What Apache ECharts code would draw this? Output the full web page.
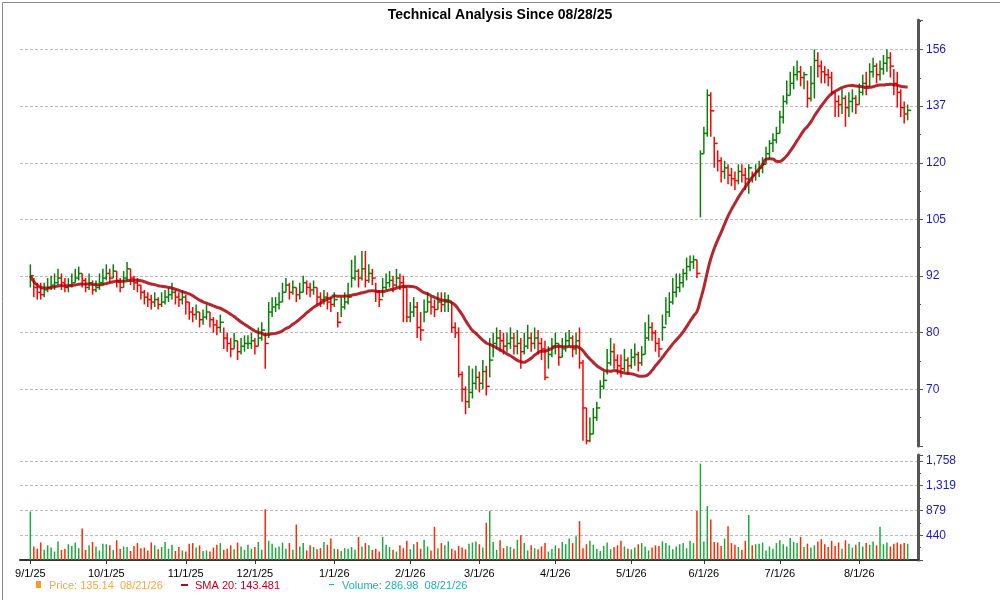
<!DOCTYPE html>
<html>
<head>
<meta charset="UTF-8">
<title>Technical Analysis</title>
<script src="https://cdn.jsdelivr.net/npm/echarts@6/dist/echarts.min.js"></script>
<style>
  html, body { margin: 0; padding: 0; background: #fff; }
  #main { width: 1000px; height: 600px; }
</style>
</head>
<body>
<div id="main"></div>
<script>
// daily bars, one per trading day from 9/1/25
var closes = [
  91.5, 89, 88, 87.5, 88.5, 89, 89.5, 90, 91, 90,
  89, 89.5, 90, 91, 92, 90.5, 89, 90, 88.5, 89,
  90, 91, 92, 91, 92.5, 90.5, 89, 91, 93, 91,
  90, 89.5, 88, 87, 86.5, 86, 86.5, 85.5, 86, 87,
  87.5, 88, 87, 86.5, 87, 86, 84, 83.5, 84, 82.5,
  83, 84, 82.5, 81.5, 81, 82, 79, 78, 77, 78.5,
  76.5, 77.5, 78, 78, 78.5, 77.5, 79, 80.5, 78, 84,
  85, 85.5, 86, 88, 89.5, 88, 89, 87.5, 88, 90,
  89, 88.5, 89, 87, 86.5, 87, 86, 85.5, 86.5, 82,
  85, 86, 87, 91, 92.5, 91, 93, 90.5, 92, 91,
  88, 86.5, 89, 90, 90.5, 89.5, 91, 90, 89, 83,
  84, 85, 81, 80.5, 84, 86, 85, 84.5, 86, 85.5,
  86, 86, 81, 80, 72.5, 70, 68, 69.5, 71, 72,
  71, 73, 70.5, 75, 78, 79, 78.5, 77.5, 78, 79,
  77.5, 78, 76.5, 77.5, 79, 78, 79, 78, 77, 72,
  76, 77.5, 78, 75.5, 77, 78.5, 79, 77, 78.5, 74.5,
  67, 62, 63, 65.5, 67, 70.5, 71.5, 74.5, 76.5, 75,
  74, 73.5, 75, 74, 75.5, 76, 74.5, 76, 79, 81,
  80, 78, 77, 81, 84, 86, 88, 89, 90, 92,
  93.5, 94.5, 95, 92, 122, 128, 140, 135, 125, 120,
  117, 118, 116, 115, 114.5, 117, 116, 115, 118, 116,
  117, 118, 119, 122, 125, 126, 128, 133, 138, 140,
  144, 147, 148, 146, 147, 139, 144, 152, 150, 148,
  147, 146, 141, 138, 137, 139, 136, 138, 139, 137,
  141, 144, 143, 148, 150, 147, 149, 151, 153, 150,
  144, 141, 136, 134, 135.14
];
var highs = [
  94, 91, 90, 90, 90, 91, 91.5, 92, 93, 92,
  91, 91, 92, 93, 93.5, 92, 91, 92, 90.5, 90.5,
  92, 93, 94, 93, 94, 92.5, 91, 92.5, 94.5, 93,
  91.5, 91, 89.5, 88.5, 88, 87.5, 88, 87, 88, 88.5,
  89, 90, 88.5, 88, 88.5, 87.5, 86, 85, 85.5, 84,
  84.5, 85.5, 84, 83, 82.5, 83.5, 81, 80, 79, 80,
  78.5, 79, 79.5, 79.5, 80, 79, 81, 82, 80, 86,
  87, 87, 88, 90, 91, 90, 90.5, 89, 90, 91.5,
  90.5, 90, 90.5, 89, 88, 88.5, 88, 87, 88, 84,
  87, 88, 90, 95, 96, 93, 97, 97, 94, 93,
  90, 88.5, 91, 92, 92.5, 91.5, 93, 92, 91.5, 89,
  86, 87, 86, 84, 86.5, 88, 87, 86.5, 88, 88,
  88, 87.5, 86, 82, 81, 73, 70.5, 74, 73.5, 74,
  73, 75, 74, 79, 80, 81, 80.5, 80, 80, 81,
  80, 80.5, 79, 80, 81.5, 80, 81, 80.5, 79, 78.5,
  77.5, 79, 80, 78, 79, 80, 80.5, 79.5, 80, 81,
  75, 67, 65.5, 67, 68, 71.5, 73, 77, 79, 78,
  76, 76, 77, 75.5, 77, 78, 76.5, 77.5, 82, 83.5,
  82, 80.5, 79, 83.5, 87, 88, 91, 92, 92, 93,
  95.5, 96, 96, 95, 123, 130, 142, 141, 127, 123,
  121, 120, 119, 118, 117, 119, 119, 118, 119, 117,
  119, 120, 121, 124, 126, 128, 130, 135, 140, 145,
  148, 150, 152, 150, 148, 145, 150, 156, 155, 152,
  150, 149, 148, 141, 140, 142, 140, 141, 142, 140,
  144, 147, 148, 151, 153, 151, 152, 154, 156, 155,
  149, 148, 142, 138, 137
];
var lows = [
  89, 87, 86.5, 86.5, 87, 88, 88.5, 88.5, 89.5, 88.5,
  88, 88, 89, 90, 90.5, 89, 88, 88.5, 87.5, 88,
  88.5, 89.5, 90.5, 90, 91, 89, 88, 89, 90.5, 89.5,
  88.5, 88, 86.5, 85.5, 85, 84.5, 85, 84.5, 85, 85.5,
  86, 86.5, 85.5, 85, 85.5, 83.5, 82.5, 82, 82.5, 81,
  81.5, 82.5, 81, 80, 79.5, 80, 77, 76.5, 75.5, 77,
  75, 76, 76.5, 77, 77, 76, 77.5, 78.5, 73.5, 79,
  83, 84, 84.5, 86, 88, 86.5, 87.5, 86, 86.5, 88,
  87.5, 87, 87.5, 85.5, 85, 85.5, 84.5, 84, 85, 81,
  83, 84.5, 85.5, 89, 90.5, 89, 90.5, 89, 90, 89.5,
  86, 85, 87, 88.5, 89, 88, 89, 88.5, 82, 82,
  82, 83, 79, 78.5, 82, 84, 83.5, 83, 84.5, 84,
  84, 84, 80, 79, 72, 68, 66, 67, 68.5, 70,
  69.5, 70, 69, 72, 75.5, 77, 76.5, 76, 76.5, 77,
  76, 76, 73.5, 76, 77, 76.5, 77, 76, 75, 71.5,
  73.5, 75.5, 76, 74, 75.5, 76.5, 77.5, 75.5, 76, 73.5,
  62, 61.5, 61.8, 63, 65, 68.5, 70, 72.5, 74, 73.5,
  72.5, 72, 73, 72.5, 73.5, 74, 73, 74, 76, 78.5,
  78.5, 76.5, 75.5, 78.5, 81.5, 83, 85.5, 87, 88, 89,
  90.5, 92.5, 93, 91, 105, 122, 127, 127, 118, 117,
  114, 115, 113.5, 113, 112, 113.5, 114, 112, 111, 114,
  114.5, 115.5, 116.5, 119, 120.5, 122.5, 125, 128, 131, 137,
  140, 142, 145, 143, 142, 136, 138, 139, 146, 144,
  144, 143, 140, 133, 133, 134, 130, 133, 134.5, 134,
  137, 140, 140, 143, 146, 144, 145, 147, 148, 146,
  140, 136, 133, 131, 132
];
var volumes = [
  860, 240, 200, 310, 180, 260, 220, 150, 330, 180,
  200, 280, 250, 310, 210, 560, 180, 260, 320, 240,
  170, 290, 280, 260, 180, 350, 200, 240, 230, 160,
  250, 300, 210, 220, 170, 310, 260, 190, 230, 320,
  200, 270, 160, 230, 170, 150, 290, 300, 220, 260,
  160, 170, 150, 220, 270, 300, 180, 200, 260, 190,
  310, 240, 180, 270, 200, 230, 320, 180, 900, 340,
  290, 220, 240, 310, 200, 300, 180, 630, 240, 300,
  170, 260, 230, 190, 210, 320, 270, 380, 200, 190,
  160, 210, 200, 230, 180, 410, 240, 300, 260, 180,
  200, 150, 410, 270, 230, 180, 150, 260, 210, 340,
  190, 280, 320, 200, 360, 240, 170, 590, 210, 300,
  260, 330, 200, 170, 250, 220, 190, 290, 310, 330,
  280, 220, 660, 870, 320, 180, 350, 210, 250, 230,
  200, 360, 440, 300, 170, 260, 210, 190, 240, 300,
  150, 200, 260, 210, 320, 280, 380, 300, 420, 690,
  210, 280, 340, 270, 200, 160, 250, 310, 190, 230,
  260, 340, 240, 200, 190, 220, 280, 300, 240, 170,
  220, 260, 250, 330, 300, 260, 190, 240, 280, 300,
  210, 340, 300, 870, 1710, 330, 955, 720, 320, 310,
  250, 380, 600, 300, 270, 230, 180, 340, 800, 260,
  280, 290, 310, 170, 240, 200, 300, 350, 280, 240,
  390, 320, 300, 410, 230, 290, 220, 260, 330, 370,
  280, 230, 340, 250, 310, 200, 350, 290, 220, 270,
  320, 240, 300, 270, 330, 260, 590, 280, 310, 240,
  290, 310, 280, 300, 286.98
];
var priceTicks = [70, 80, 92, 105, 120, 137, 156];
var legendTexts = ['Price: 135.14  08/21/26', 'SMA 20: 143.481', 'Volume: 286.98  08/21/26'];

// trading days (weekdays) starting 9/1/25, with a few empty slots at each end as margin
var PAD = 3;
var dates = [];
var d = new Date(2025, 8, 1);
while (dates.length < closes.length) {
  if (d.getDay() !== 0 && d.getDay() !== 6) dates.push(new Date(d));
  d.setDate(d.getDate() + 1);
}
var cats = [], monthStart = [], labelOf = [];
for (var p = 0; p < PAD; p++) { cats.push('a' + p); monthStart.push(false); labelOf.push(''); }
dates.forEach(function (t, i) {
  cats.push((t.getMonth() + 1) + '/' + t.getDate() + '/' + String(t.getFullYear()).slice(2));
  monthStart.push(i === 0 || t.getMonth() !== dates[i - 1].getMonth());
  labelOf.push((t.getMonth() + 1) + '/1/' + String(t.getFullYear()).slice(2));
});
for (p = 0; p < PAD; p++) { cats.push('b' + p); monthStart.push(false); labelOf.push(''); }

// price axis is log-like: each label step is the same ratio
var B = Math.pow(156 / 70, 1 / 6);
function tr(v) { return Math.log(v / 70) / Math.log(B) + 32; }

var sma = closes.map(function (c, i) {
  var s = 0, n = 0;
  for (var j = Math.max(0, i - 19); j <= i; j++) { s += closes[j]; n++; }
  return [i + PAD, tr(s / n)];
});
var up = closes.map(function (c, i) { return i === 0 ? true : c >= closes[i - 1]; });
var barData = closes.map(function (c, i) { return [i + PAD, tr(lows[i]), tr(highs[i]), tr(c)]; });
var volData = volumes.map(function (v, i) {
  return { value: [i + PAD, v], itemStyle: { color: up[i] ? '#1daa3c' : '#ff2a00' } };
});

var myChart = echarts.init(document.getElementById('main'));
var gridLine = { show: true, showMinLine: false, showMaxLine: false, lineStyle: { color: '#bbb', type: [3, 2], width: 1 } };
var option = {
  animation: false,
  title: {
    text: 'Technical Analysis Since 08/28/25', left: 'center', top: 3,
    textStyle: { fontSize: 14, fontWeight: 'bold', color: '#000', fontFamily: 'Liberation Sans, Arial' }
  },
  grid: [
    { left: 20, right: 82, top: 20, bottom: 154 },
    { left: 20, right: 82, top: 455, bottom: 40 }
  ],
  xAxis: [
    { type: 'category', gridIndex: 0, data: cats, boundaryGap: false,
      axisLine: { show: false }, axisTick: { show: false }, axisLabel: { show: false }, splitLine: { show: false } },
    { type: 'category', gridIndex: 1, data: cats, boundaryGap: false,
      axisLine: { lineStyle: { color: '#333', width: 2 } },
      axisTick: { interval: function (i) { return monthStart[i]; }, lineStyle: { color: '#333' }, length: 4 },
      axisLabel: { interval: function (i) { return monthStart[i]; }, formatter: function (v, i) { return labelOf[i]; },
        color: '#000', fontSize: 11, fontFamily: 'Liberation Sans, Arial' },
      splitLine: { show: false } }
  ],
  yAxis: [
    { type: 'value', gridIndex: 0, position: 'right', min: 31, max: 38.52, interval: 1,
      axisLine: { show: true, lineStyle: { color: '#555', width: 3 } },
      axisTick: { show: true, length: 5, lineStyle: { color: '#555' } },
      minorTick: { show: true, splitNumber: 2, length: 3, lineStyle: { color: '#555' } },
      axisLabel: { showMaxLabel: false, color: '#1a1ab4', fontSize: 12, fontFamily: 'Liberation Sans, Arial',
        formatter: function (v) { var k = Math.round(v) - 32; return (Math.abs(v - Math.round(v)) < 1e-6 && priceTicks[k] !== undefined) ? String(priceTicks[k]) : ''; } },
      splitLine: gridLine },
    { type: 'value', gridIndex: 1, position: 'right', min: 0, max: 1863, interval: 439.5,
      axisLine: { show: true, lineStyle: { color: '#555', width: 3 } },
      axisTick: { show: true, length: 5, lineStyle: { color: '#555' } },
      minorTick: { show: true, splitNumber: 2, length: 3, lineStyle: { color: '#555' } },
      axisLabel: { showMaxLabel: false, color: '#1a1ab4', fontSize: 12, fontFamily: 'Liberation Sans, Arial',
        formatter: function (v) { return v === 0 ? '' : Math.round(v).toLocaleString('en-US'); } },
      splitLine: gridLine }
  ],
  series: [
    { type: 'custom', xAxisIndex: 0, yAxisIndex: 0, data: barData,
      renderItem: function (params, api) {
        var i = api.value(0);
        var lo = api.coord([i, api.value(1)]);
        var hi = api.coord([i, api.value(2)]);
        var cl = api.coord([i, api.value(3)]);
        var col = up[i - PAD] ? '#0a7f0a' : '#ff0000';
        return { type: 'group', children: [
          { type: 'line', shape: { x1: lo[0], y1: lo[1], x2: hi[0], y2: hi[1] }, style: { stroke: col, lineWidth: 1.5 } },
          { type: 'line', shape: { x1: cl[0], y1: cl[1], x2: cl[0] + 3.5, y2: cl[1] }, style: { stroke: col, lineWidth: 1.5 } }
        ] };
      } },
    { type: 'line', xAxisIndex: 0, yAxisIndex: 0, data: sma, smooth: true, showSymbol: false,
      lineStyle: { color: '#a8000a', width: 3, opacity: 0.85 } },
    { type: 'bar', xAxisIndex: 1, yAxisIndex: 1, data: volData, barWidth: 1.5 }
  ],
  graphic: [
    { type: 'rect', left: 36, top: 581, shape: { width: 5, height: 7 }, style: { fill: '#f39c2a' } },
    { type: 'text', left: 49, top: 580, style: { text: legendTexts[0], fill: '#f5a84a', fontSize: 11, fontFamily: 'Liberation Sans, Arial' } },
    { type: 'rect', left: 181, top: 584, shape: { width: 7, height: 2 }, style: { fill: '#c0001a' } },
    { type: 'text', left: 195, top: 580, style: { text: legendTexts[1], fill: '#c0001a', fontSize: 11, fontFamily: 'Liberation Sans, Arial' } },
    { type: 'rect', left: 329, top: 584, shape: { width: 5, height: 1 }, style: { fill: '#20b2b2' } },
    { type: 'text', left: 342, top: 580, style: { text: legendTexts[2], fill: '#20b2b2', fontSize: 11, fontFamily: 'Liberation Sans, Arial' } },
    { type: 'rect', left: 0, top: 0, shape: { width: 999, height: 599 }, style: { fill: 'none', stroke: '#888', lineWidth: 1 } }
  ]
};
myChart.setOption(option);
window.addEventListener('resize', function () { myChart.resize(); });
</script>
</body>
</html>
